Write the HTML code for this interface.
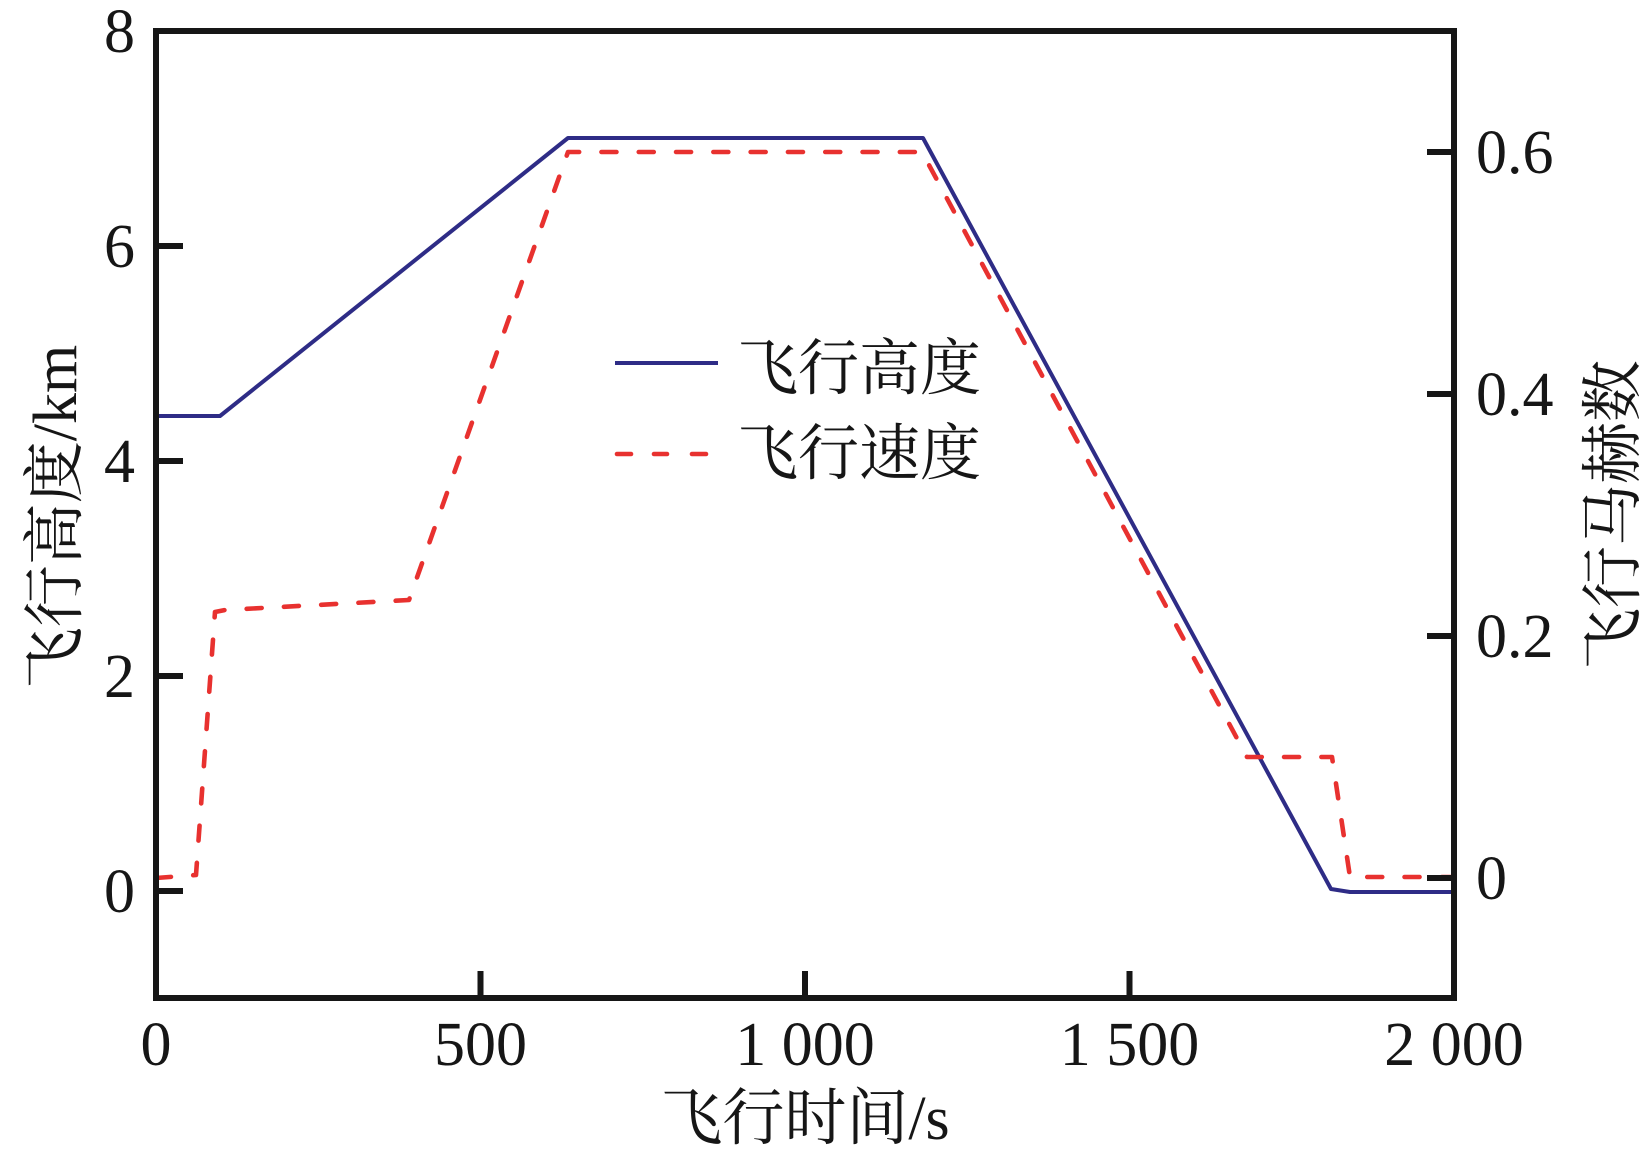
<!DOCTYPE html>
<html>
<head>
<meta charset="utf-8">
<style>
  html, body { margin: 0; padding: 0; background: #ffffff; }
  svg { display: block; }
  .num { font-family: "Liberation Serif", serif; font-size: 62px; fill: #161616; }
  .cjk { font-family: "Liberation Serif", "Noto Serif CJK SC", serif; font-size: 62px; fill: #161616; }
  .leg { font-family: "Liberation Serif", "Noto Serif CJK SC", serif; font-size: 61px; fill: #161616; }
</style>
</head>
<body>
<svg width="1648" height="1156" viewBox="0 0 1648 1156" xmlns="http://www.w3.org/2000/svg">
  <rect x="0" y="0" width="1648" height="1156" fill="#ffffff"/>

  <!-- Altitude (solid blue) -->
  <polyline fill="none" stroke="#2e2c86" stroke-width="4" stroke-linejoin="round"
    points="156,416 220,416 568,138 923,138 1331,889 1350,892 1454,892"/>

  <!-- Mach (dashed red) -->
  <polyline fill="none" stroke="#e8312f" stroke-width="4.6" stroke-linecap="round" stroke-linejoin="round"
    stroke-dasharray="15 22.3"
    points="156,878 196,875 215,612 225,610 409,600 568,152 922,152 1247,757 1332,757 1350,877 1454,877"/>

  <!-- Frame -->
  <rect x="156" y="31" width="1298" height="967" fill="none" stroke="#161616" stroke-width="6"/>

  <!-- Ticks -->
  <g stroke="#161616" stroke-width="6">
    <line x1="156" y1="246" x2="183" y2="246"/>
    <line x1="156" y1="461" x2="183" y2="461"/>
    <line x1="156" y1="676" x2="183" y2="676"/>
    <line x1="156" y1="891" x2="183" y2="891"/>
    <line x1="480.5" y1="998" x2="480.5" y2="971"/>
    <line x1="805" y1="998" x2="805" y2="971"/>
    <line x1="1129.5" y1="998" x2="1129.5" y2="971"/>
    <line x1="1454" y1="152" x2="1427" y2="152"/>
    <line x1="1454" y1="394" x2="1427" y2="394"/>
    <line x1="1454" y1="636" x2="1427" y2="636"/>
    <line x1="1454" y1="878" x2="1427" y2="878"/>
  </g>

  <!-- Left tick labels -->
  <g class="num" text-anchor="end">
    <text x="135" y="52">8</text>
    <text x="135" y="267">6</text>
    <text x="135" y="482">4</text>
    <text x="135" y="697">2</text>
    <text x="135" y="912">0</text>
  </g>

  <!-- Right tick labels -->
  <g class="num" text-anchor="start">
    <text x="1476" y="173">0.6</text>
    <text x="1476" y="415">0.4</text>
    <text x="1476" y="657">0.2</text>
    <text x="1476" y="899">0</text>
  </g>

  <!-- Bottom tick labels -->
  <g class="num" text-anchor="middle">
    <text x="156" y="1065">0</text>
    <text x="480.5" y="1065">500</text>
    <text x="805" y="1065">1 000</text>
    <text x="1129.5" y="1065">1 500</text>
    <text x="1454" y="1065">2 000</text>
  </g>

  <!-- Axis titles -->
  <text class="cjk" x="805" y="1139" text-anchor="middle">飞行时间/s</text>
  <text class="cjk" transform="translate(76,517) rotate(-90)" text-anchor="middle">飞行高度/km</text>
  <text class="cjk" transform="translate(1634,515) rotate(-90)" text-anchor="middle">飞行马赫数</text>

  <!-- Legend -->
  <line x1="615" y1="363" x2="718" y2="363" stroke="#2e2c86" stroke-width="4"/>
  <g stroke="#e8312f" stroke-width="4.6" stroke-linecap="round">
    <line x1="617" y1="454" x2="631" y2="454"/>
    <line x1="654" y1="454" x2="667" y2="454"/>
    <line x1="692" y1="454" x2="706" y2="454"/>
  </g>
  <text class="leg" x="737" y="389">飞行高度</text>
  <text class="leg" x="737" y="474">飞行速度</text>
</svg>
</body>
</html>
